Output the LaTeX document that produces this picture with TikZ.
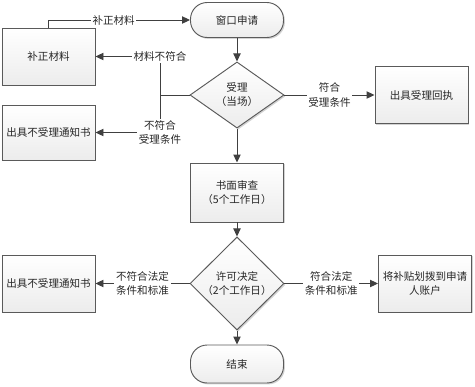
\documentclass[tikz,border=0pt]{standalone}
\usepackage{fontspec}
\usepackage{xcolor}
\usepackage{tikz}
\usetikzlibrary{positioning,arrows.meta,shapes.geometric,shadows}
\newfontfamily\cjk{Noto Sans CJK SC}
\definecolor{trait}{RGB}{64,64,64}
\definecolor{bord}{RGB}{90,90,90}
\definecolor{fond}{RGB}{236,236,236}

\begin{document}
\begin{tikzpicture}[x=0.03cm, y=-0.03cm,
  every node/.style={font=\cjk\fontsize{9}{12}\selectfont, text=black!85},
  boite/.style={rectangle, draw=bord, top color=white, bottom color=fond, thick,
                minimum width=2.79cm, minimum height=1.71cm, align=center,
                drop shadow={shadow xshift=1.2pt, shadow yshift=-1.2pt, opacity=0.35}},
  borne/.style={rectangle, rounded corners=0.5cm, draw=bord, top color=white, bottom color=fond, thick,
                minimum width=2.79cm, minimum height=1.05cm,
                drop shadow={shadow xshift=1.2pt, shadow yshift=-1.2pt, opacity=0.35}},
  choix/.style={diamond, draw=bord, top color=white, bottom color=fond, thick,
                minimum width=2.82cm, minimum height=1.7cm, align=center, inner sep=0pt,
                drop shadow={shadow xshift=1.2pt, shadow yshift=-1.2pt, opacity=0.35}},
  lbl/.style={fill=white, align=center, inner sep=1.5pt},
  fl/.style={draw=trait, line width=0.8pt, -{Triangle[length=2.4mm,width=2.2mm]}},
  tr/.style={draw=trait, line width=0.8pt}]

\useasboundingbox (0,0) rectangle (475,386);

% ── colonne centrale ──
\node[borne] (dep) at (237,20) {窗口申请};
\node[choix] (acc) at (237,95) {受理\\（当场）};
\node[boite, minimum height=1.77cm] (exa) at (237,192.5) {书面审查\\（5个工作日）};
\node[choix] (dec) at (237,283.5) {许可决定\\（2个工作日）};
\node[borne, minimum height=1.14cm] (fin) at (237,364) {结束};

% ── côté gauche ──
\node[boite] (cor) at (48.5,56.5) {补正材料};
\node[boite, minimum height=1.65cm] (rej1) at (48.5,132.5) {出具不受理通知书};
\node[boite] (rej2) at (48.5,283.5) {出具不受理通知书};

% ── côté droit ──
\node[boite] (rec) at (421.5,95) {出具受理回执};
\node[boite] (ver) at (425,283.5) {将补贴划拨到申请\\人账户};

% ── flux ──
\coordinate (j) at (160,95);
\draw[fl] (dep) -- (acc);
\draw[fl] (acc) -- (exa);
\draw[fl] (exa) -- (dec);
\draw[fl] (dec) -- (fin);
\draw[fl] (cor.north) |- node[lbl, pos=0.73] {补正材料} (dep.west);
\draw[tr] (acc.west) -- (j);
\draw[fl] (j) |- node[lbl, pos=0.5] {材料不符合} (cor.east);
\draw[fl] (j) |- node[lbl, pos=0.5] {不符合\\受理条件} (rej1.east);
\draw[fl] (acc.east) -- node[lbl] {符合\\受理条件} (rec.west);
\draw[fl] (dec.west) -- node[lbl] {不符合法定\\条件和标准} (rej2.east);
\draw[fl] (dec.east) -- node[lbl] {符合法定\\条件和标准} (ver.west);

\end{tikzpicture}
\end{document}
